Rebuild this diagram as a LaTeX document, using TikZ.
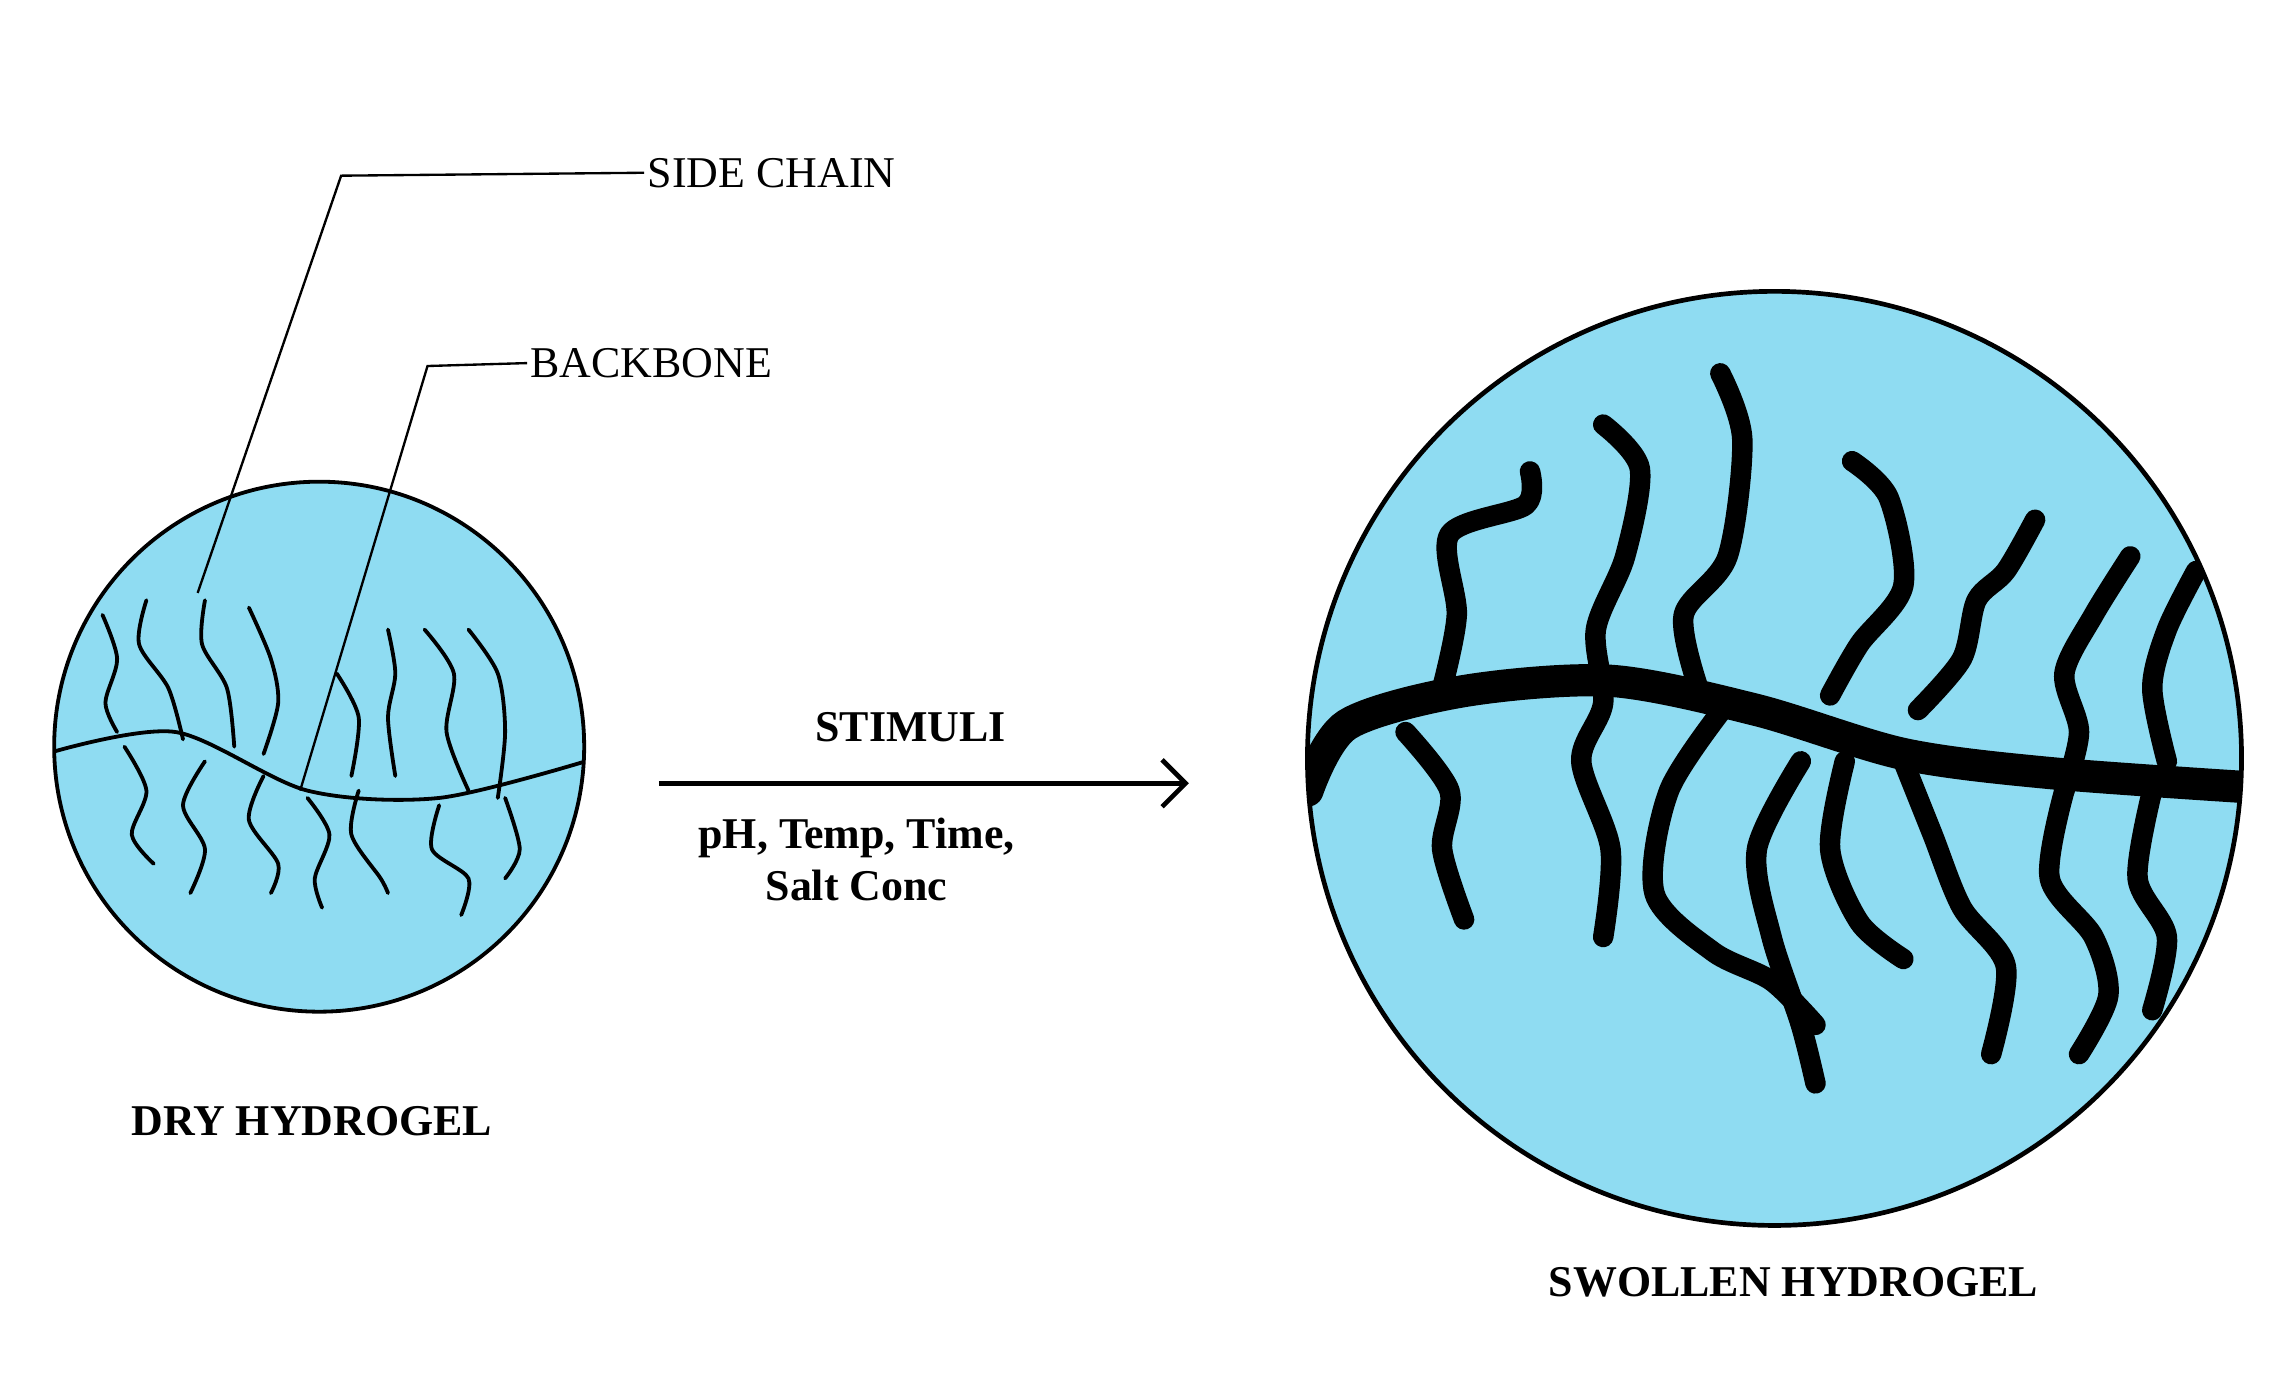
\documentclass[tikz,border=0pt]{standalone}
\usepackage{fontspec}
\usetikzlibrary{arrows.meta}
\setmainfont{Liberation Serif}
\definecolor{gel}{HTML}{8FDCF2}
\begin{document}
\begin{tikzpicture}[x=0.5pt,y=-0.5pt,
  thin chain/.style={line width=1.3pt,line cap=round},
  thick chain/.style={line width=7pt,line cap=round,line join=round},
  lbl/.style={font=\fontsize{15}{18}\selectfont,inner sep=1pt},
  blbl/.style={font=\bfseries\fontsize{15}{18}\selectfont,inner sep=1pt}]
\useasboundingbox (0,0) rectangle (1560,940);
% left circle
\coordinate (dry) at (218,510);
\draw[line width=1.3pt,fill=gel] (dry) circle (181);
\begin{scope}
\clip (dry) circle (181);
\draw[thin chain] plot[smooth] coordinates {(38,513)(120,500)(210,540)(300,545)(400,520)};
\foreach \p in {
 {(70,420)(80,450)(72,480)(80,500)},
 {(100,410)(95,440)(115,470)(125,505)},
 {(140,410)(138,440)(155,470)(160,510)},
 {(170,415)(185,450)(190,480)(180,515)},
 {(230,460)(245,490)(240,530)},
 {(265,430)(270,460)(265,490)(270,530)},
 {(290,430)(310,460)(305,500)(320,540)},
 {(320,430)(340,460)(345,500)(340,545)},
 {(85,510)(100,540)(90,570)(105,590)},
 {(140,520)(125,550)(140,580)(130,610)},
 {(180,530)(170,560)(190,590)(185,610)},
 {(210,545)(225,570)(215,600)(220,620)},
 {(245,540)(240,570)(260,600)(265,610)},
 {(300,550)(295,580)(320,600)(315,625)},
 {(345,545)(355,580)(345,600)}}
 \draw[thin chain] plot[smooth] coordinates \p;
\end{scope}
% labels
\node[lbl,anchor=west] (sc) at (440,118) {SIDE CHAIN};
\node[lbl,anchor=west] (bb) at (360,248) {BACKBONE};
\coordinate (sc1) at (233,120);
\coordinate (sc2) at (135,405);
\coordinate (bb1) at (292,250);
\coordinate (bb2) at (205,540);
\draw[line width=0.8pt] (sc.west) -- (sc1) -- (sc2);
\draw[line width=0.8pt] (bb.west) -- (bb1) -- (bb2);
\node[blbl] (dl) at (213,766) {DRY HYDROGEL};
% arrow
\coordinate (a1) at (450,535);
\coordinate (a2) at (812,535);
\draw[line width=1.6pt,-{Straight Barb[length=8pt,width=16pt]}] (a1) -- (a2);
\node[blbl] (st) at (622,497) {STIMULI};
\node[blbl,align=center] (cond) at (585,587) {pH, Temp, Time,\\Salt Conc};
% right circle
\coordinate (wet) at (1212,518);
\draw[line width=1.6pt,fill=gel] (wet) circle (319);
\begin{scope}
\clip (wet) circle (318);
\draw[line width=11pt,line cap=round] plot[smooth] coordinates {(893,540)(920,495)(1000,472)(1100,465)(1200,485)(1300,515)(1400,528)(1540,538)};
\foreach \p in {
 {(1045,322)(1042,345)(990,365)(995,420)(985,470)},
 {(960,500)(990,540)(985,580)(1000,628)},
 {(1095,290)(1120,320)(1110,380)(1090,430)(1095,480)(1080,520)(1100,580)(1095,640)},
 {(1175,255)(1190,300)(1180,380)(1150,420)(1160,470)},
 {(1265,315)(1290,340)(1300,400)(1270,440)(1250,475)},
 {(1390,355)(1370,390)(1350,410)(1340,450)(1310,485)},
 {(1455,380)(1430,420)(1410,460)(1420,500)(1410,540)},
 {(1500,390)(1480,430)(1470,470)(1480,520)},
 {(1180,480)(1140,540)(1130,610)(1170,650)(1210,670)(1240,700)},
 {(1230,520)(1200,580)(1210,640)(1230,700)(1240,740)},
 {(1260,520)(1250,580)(1270,630)(1300,655)},
 {(1300,520)(1320,570)(1340,620)(1370,660)(1360,720)},
 {(1410,540)(1400,600)(1430,640)(1440,680)(1420,720)},
 {(1470,540)(1460,600)(1480,640)(1470,690)}}
 \draw[thick chain] plot[smooth] coordinates \p;
\end{scope}
\node[blbl] (wl) at (1225,876) {SWOLLEN HYDROGEL};
\end{tikzpicture}
\end{document}
